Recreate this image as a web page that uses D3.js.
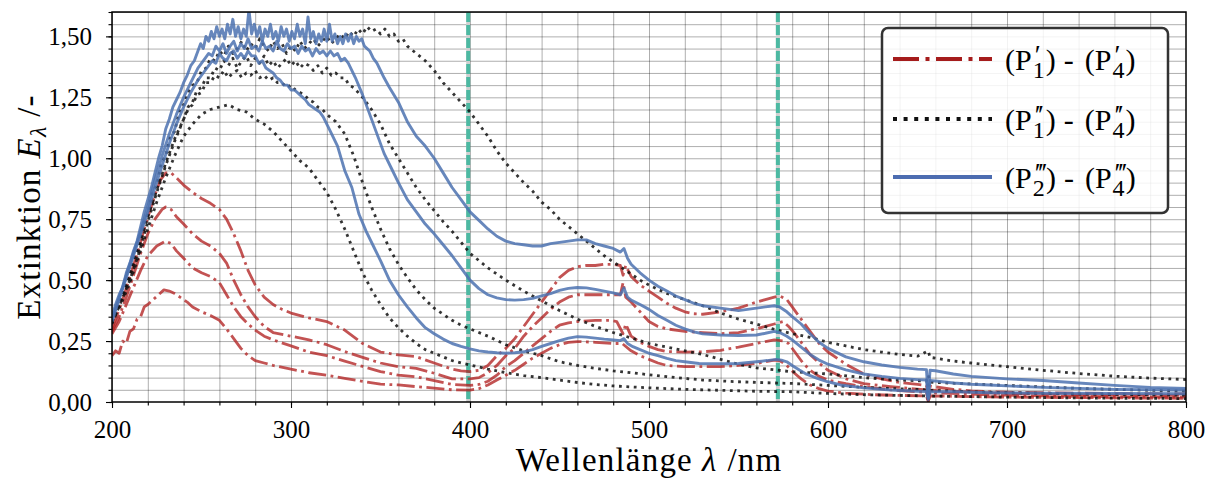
<!DOCTYPE html>
<html>
<head>
<meta charset="utf-8">
<script src="https://cdn.jsdelivr.net/npm/d3@7"></script>
<style>
  html, body { margin: 0; padding: 0; background: #fff; }
  svg { display: block; }
</style>
</head>
<body>
<svg id="chart" width="1212" height="479"></svg>
<script>
// ---- tick labels / axis layout values ----
const xTicks = [200, 300, 400, 500, 600, 700, 800];
const yTicks = [0, 0.25, 0.5, 0.75, 1.0, 1.25, 1.5];
const markerLines = [399, 572];   // marked wavelengths (nm)

// ---- series: [wavelength nm, extinction] ----
// (P'_1)-(P'_4), dash-dot
const red1 = [[200,0.30],[203,0.36],[206,0.42],[209,0.49],[212,0.56],[215,0.63],[218,0.71],[221,0.78],[224,0.85],[227,0.91],[230,0.94],[233,0.94],[236,0.92],[240,0.89],[245,0.86],[250,0.835],[255,0.815],[260,0.79],[264,0.75],[268,0.69],[272,0.62],[276,0.54],[280,0.48],[285,0.43],[290,0.40],[295,0.38],[300,0.365],[310,0.345],[320,0.33],[330,0.295],[340,0.24],[350,0.205],[360,0.193],[370,0.186],[380,0.16],[390,0.135],[395,0.128],[400,0.125],[405,0.13],[410,0.15],[415,0.19],[420,0.22],[425,0.26],[430,0.31],[435,0.36],[440,0.41],[445,0.46],[450,0.51],[455,0.54],[460,0.555],[465,0.56],[470,0.56],[475,0.565],[480,0.565],[484,0.56],[485.5,0.52],[487,0.56],[490,0.515],[495,0.48],[500,0.455],[505,0.43],[510,0.405],[515,0.385],[520,0.37],[525,0.362],[530,0.36],[540,0.37],[550,0.385],[560,0.41],[565,0.42],[570,0.43],[573,0.435],[577,0.42],[580,0.39],[585,0.34],[590,0.29],[595,0.24],[600,0.205],[610,0.155],[620,0.115],[630,0.095],[640,0.08],[650,0.072],[655,0.068],[656,0.005],[657,0.065],[660,0.062],[670,0.052],[680,0.046],[690,0.042],[700,0.04],[720,0.038],[740,0.036],[760,0.035],[780,0.034],[800,0.033]];
const red2 = [[200,0.29],[204,0.35],[208,0.43],[212,0.52],[216,0.61],[220,0.69],[224,0.75],[228,0.79],[230,0.80],[233,0.79],[236,0.76],[240,0.73],[245,0.69],[250,0.66],[255,0.64],[260,0.61],[264,0.57],[268,0.50],[272,0.44],[276,0.39],[280,0.35],[285,0.31],[290,0.285],[300,0.27],[310,0.255],[320,0.235],[330,0.207],[340,0.183],[350,0.16],[360,0.145],[370,0.138],[380,0.118],[390,0.095],[400,0.095],[405,0.10],[410,0.12],[415,0.15],[420,0.19],[425,0.22],[430,0.27],[435,0.31],[440,0.345],[445,0.38],[450,0.41],[455,0.43],[460,0.44],[470,0.44],[480,0.44],[484,0.44],[485.5,0.49],[487,0.43],[490,0.41],[495,0.37],[500,0.33],[505,0.31],[510,0.30],[520,0.29],[530,0.285],[540,0.28],[550,0.285],[560,0.30],[565,0.31],[570,0.32],[575,0.33],[578,0.31],[582,0.275],[586,0.235],[590,0.195],[595,0.16],[600,0.13],[610,0.095],[620,0.075],[635,0.063],[650,0.053],[655,0.05],[656,0.005],[657,0.05],[660,0.048],[680,0.04],[700,0.035],[740,0.03],[800,0.027]];
const red3 = [[200,0.28],[204,0.33],[208,0.40],[212,0.47],[216,0.54],[220,0.60],[225,0.64],[230,0.66],[233,0.65],[236,0.62],[240,0.59],[245,0.55],[250,0.53],[255,0.515],[260,0.49],[264,0.44],[268,0.39],[272,0.35],[276,0.32],[280,0.295],[285,0.27],[290,0.255],[300,0.23],[310,0.205],[320,0.19],[330,0.168],[340,0.146],[350,0.125],[360,0.11],[370,0.103],[380,0.088],[390,0.072],[400,0.068],[405,0.072],[410,0.085],[415,0.11],[420,0.145],[425,0.17],[430,0.20],[435,0.23],[440,0.26],[445,0.29],[450,0.315],[455,0.325],[460,0.33],[470,0.335],[478,0.335],[482,0.33],[485.5,0.28],[487,0.32],[490,0.27],[495,0.245],[500,0.228],[505,0.215],[510,0.207],[520,0.205],[530,0.206],[540,0.212],[550,0.225],[560,0.24],[565,0.248],[570,0.255],[575,0.25],[578,0.24],[582,0.20],[586,0.16],[590,0.13],[595,0.105],[600,0.09],[610,0.075],[620,0.063],[635,0.05],[650,0.042],[655,0.04],[656,0.003],[657,0.04],[660,0.038],[690,0.029],[720,0.025],[760,0.022],[800,0.02]];
const red4 = [[200,0.19],[202,0.21],[204,0.20],[206,0.25],[208,0.24],[210,0.29],[212,0.30],[214,0.34],[216,0.35],[218,0.39],[220,0.40],[223,0.42],[226,0.44],[229,0.46],[232,0.455],[235,0.445],[238,0.43],[242,0.41],[245,0.39],[250,0.37],[255,0.355],[260,0.335],[264,0.30],[268,0.26],[272,0.22],[276,0.19],[280,0.17],[285,0.16],[290,0.15],[300,0.135],[310,0.12],[320,0.11],[330,0.097],[340,0.085],[350,0.073],[360,0.07],[370,0.063],[380,0.057],[390,0.05],[400,0.049],[405,0.055],[410,0.07],[415,0.09],[420,0.11],[425,0.13],[430,0.155],[435,0.18],[440,0.20],[445,0.22],[450,0.235],[455,0.245],[460,0.248],[470,0.245],[480,0.24],[485,0.24],[490,0.21],[495,0.19],[500,0.175],[505,0.16],[510,0.15],[520,0.145],[530,0.145],[540,0.145],[550,0.15],[560,0.158],[570,0.172],[573,0.17],[577,0.15],[581,0.12],[585,0.095],[590,0.07],[595,0.055],[600,0.045],[610,0.036],[625,0.03],[640,0.027],[655,0.025],[656,0.002],[657,0.025],[690,0.021],[740,0.018],[800,0.015]];

// (P''_1)-(P''_4), dotted
const black1 = [[200,0.33],[205,0.42],[210,0.52],[212.5,0.60],[215,0.63],[217.5,0.73],[220,0.77],[222.5,0.86],[225,0.89],[227.5,0.98],[230,1.01],[232.5,1.09],[235,1.11],[237.5,1.19],[240,1.22],[242.5,1.27],[245,1.30],[247.5,1.31],[250,1.36],[252.5,1.37],[255,1.41],[257.5,1.40],[260,1.44],[262.5,1.42],[265,1.46],[267.5,1.43],[270,1.45],[272.5,1.48],[275,1.44],[277.5,1.47],[280,1.45],[282.5,1.49],[285,1.46],[287.5,1.44],[290,1.48],[292.5,1.45],[295,1.47],[297.5,1.43],[300,1.46],[302.5,1.44],[305,1.48],[307.5,1.45],[310,1.47],[312.5,1.49],[315,1.46],[317.5,1.48],[320,1.50],[322.5,1.47],[325,1.49],[327.5,1.51],[330,1.49],[332.5,1.52],[335,1.50],[337.5,1.53],[340,1.51],[342.5,1.54],[345,1.52],[347.5,1.53],[350,1.51],[352.5,1.53],[355,1.50],[357.5,1.51],[360,1.48],[362.5,1.49],[365,1.46],[370,1.43],[375,1.40],[380,1.36],[385,1.31],[390,1.27],[395,1.23],[400,1.19],[405,1.14],[410,1.09],[415,1.03],[420,0.98],[425,0.94],[430,0.90],[435,0.865],[440,0.82],[445,0.79],[450,0.75],[455,0.72],[460,0.69],[465,0.66],[470,0.63],[475,0.60],[480,0.575],[485,0.55],[490,0.525],[495,0.50],[500,0.48],[510,0.445],[520,0.42],[530,0.395],[540,0.365],[550,0.34],[560,0.32],[570,0.298],[580,0.28],[590,0.265],[600,0.245],[610,0.23],[620,0.215],[630,0.205],[640,0.195],[650,0.188],[656,0.21],[657,0.183],[660,0.18],[670,0.168],[680,0.16],[690,0.152],[700,0.145],[720,0.13],[740,0.117],[760,0.106],[780,0.098],[800,0.092]];
const black2 = [[200,0.32],[205,0.41],[210,0.50],[215,0.61],[220,0.74],[225,0.86],[230,0.97],[235,1.07],[240,1.16],[242.5,1.21],[245,1.23],[247.5,1.28],[250,1.29],[252.5,1.33],[255,1.33],[257.5,1.37],[260,1.36],[262.5,1.40],[265,1.38],[267.5,1.41],[270,1.37],[272.5,1.40],[275,1.42],[277.5,1.38],[280,1.41],[282.5,1.39],[285,1.42],[287.5,1.38],[290,1.40],[292.5,1.37],[295,1.39],[297.5,1.41],[300,1.38],[302.5,1.40],[305,1.37],[307.5,1.39],[310,1.38],[312.5,1.36],[315,1.38],[317.5,1.35],[320,1.37],[322.5,1.34],[325,1.35],[327.5,1.33],[330,1.33],[332.5,1.30],[335,1.29],[340,1.25],[345,1.20],[350,1.14],[355,1.06],[360,1.00],[365,0.94],[370,0.88],[375,0.83],[380,0.785],[385,0.74],[390,0.70],[395,0.655],[400,0.61],[405,0.58],[410,0.55],[420,0.50],[430,0.455],[440,0.415],[450,0.375],[460,0.34],[470,0.31],[480,0.285],[490,0.263],[500,0.24],[510,0.225],[520,0.21],[530,0.195],[540,0.175],[550,0.155],[560,0.14],[570,0.132],[580,0.124],[590,0.12],[600,0.115],[620,0.10],[640,0.09],[655,0.086],[656,0.11],[657,0.082],[660,0.08],[680,0.074],[700,0.068],[720,0.062],[740,0.056],[760,0.052],[780,0.048],[800,0.045]];
const black3 = [[200,0.33],[205,0.42],[210,0.52],[215,0.63],[220,0.76],[225,0.87],[230,0.98],[235,1.08],[240,1.16],[242.5,1.20],[245,1.22],[247.5,1.26],[250,1.27],[252.5,1.31],[255,1.31],[257.5,1.34],[260,1.33],[262.5,1.36],[265,1.33],[267.5,1.35],[270,1.36],[272.5,1.33],[275,1.35],[277.5,1.34],[280,1.36],[282.5,1.33],[285,1.34],[287.5,1.32],[290,1.33],[292.5,1.31],[295,1.31],[297.5,1.29],[300,1.30],[302.5,1.28],[305,1.27],[307.5,1.26],[310,1.24],[312.5,1.23],[315,1.21],[317.5,1.20],[320,1.18],[325,1.15],[330,1.10],[335,1.01],[340,0.90],[345,0.80],[350,0.71],[355,0.63],[360,0.565],[365,0.51],[370,0.46],[375,0.42],[380,0.385],[385,0.36],[390,0.335],[395,0.315],[400,0.30],[410,0.27],[420,0.235],[430,0.21],[440,0.19],[450,0.165],[460,0.15],[470,0.138],[480,0.128],[490,0.12],[500,0.112],[510,0.104],[520,0.097],[530,0.09],[550,0.083],[570,0.078],[580,0.076],[600,0.068],[620,0.06],[640,0.054],[655,0.05],[656,0.07],[657,0.048],[660,0.047],[680,0.042],[700,0.038],[740,0.033],[800,0.028]];
const black4 = [[200,0.33],[205,0.40],[210,0.49],[215,0.60],[220,0.71],[225,0.82],[230,0.92],[235,1.01],[240,1.09],[245,1.14],[250,1.18],[255,1.20],[260,1.21],[265,1.22],[270,1.20],[275,1.19],[280,1.16],[285,1.14],[290,1.11],[295,1.07],[300,1.03],[305,0.99],[310,0.96],[315,0.91],[320,0.86],[325,0.79],[330,0.71],[335,0.62],[340,0.53],[345,0.46],[350,0.40],[355,0.345],[360,0.305],[365,0.27],[370,0.24],[375,0.215],[380,0.20],[385,0.185],[390,0.17],[395,0.16],[400,0.152],[410,0.135],[420,0.12],[430,0.108],[440,0.10],[450,0.09],[460,0.08],[470,0.072],[480,0.066],[490,0.062],[500,0.058],[520,0.052],[540,0.048],[560,0.044],[580,0.042],[600,0.035],[620,0.03],[640,0.027],[655,0.025],[656,0.04],[657,0.024],[660,0.024],[700,0.02],[750,0.016],[800,0.014]];

// (P'''_2)-(P'''_4), solid
const blue1 = [[200,0.35],[202,0.40],[204,0.44],[206,0.47],[208,0.53],[210,0.57],[212,0.62],[214,0.66],[216,0.72],[218,0.78],[220,0.83],[222,0.88],[224,0.94],[226,1.00],[228,1.05],[230,1.12],[232,1.16],[234,1.21],[236,1.24],[238,1.27],[240,1.31],[242,1.34],[244,1.38],[246,1.40],[248,1.44],[249.5,1.47],[251,1.45],[252.5,1.50],[254,1.48],[255.5,1.52],[257,1.49],[258.5,1.54],[260,1.50],[261.5,1.53],[263,1.49],[264.5,1.55],[266,1.51],[267.5,1.57],[269,1.50],[270.5,1.54],[272,1.49],[273.5,1.53],[275,1.50],[276.5,1.61],[278,1.51],[279.5,1.55],[281,1.50],[282.5,1.54],[284,1.48],[285.5,1.53],[287,1.50],[288.5,1.55],[290,1.49],[291.5,1.52],[293,1.48],[294.5,1.54],[296,1.50],[297.5,1.53],[299,1.48],[300.5,1.52],[302,1.49],[303.5,1.55],[305,1.50],[306.5,1.53],[308,1.47],[309.5,1.58],[311,1.49],[312.5,1.52],[314,1.47],[315.5,1.51],[317,1.48],[318.5,1.53],[320,1.48],[321.5,1.55],[323,1.48],[324.5,1.51],[326,1.47],[327.5,1.50],[329,1.47],[330.5,1.51],[332,1.48],[333.5,1.51],[335,1.47],[336.5,1.50],[338,1.48],[339.5,1.49],[341,1.46],[342.5,1.45],[344,1.44],[346,1.41],[348,1.39],[350,1.36],[352,1.33],[355,1.29],[360,1.23],[365,1.15],[370,1.09],[375,1.05],[380,1.00],[385,0.94],[390,0.88],[395,0.83],[400,0.78],[405,0.745],[410,0.71],[415,0.68],[420,0.66],[425,0.65],[430,0.645],[435,0.64],[440,0.64],[445,0.65],[450,0.655],[455,0.66],[460,0.665],[465,0.665],[470,0.65],[475,0.64],[480,0.63],[484,0.615],[486,0.63],[488,0.59],[490,0.565],[495,0.53],[500,0.50],[505,0.475],[510,0.455],[515,0.435],[520,0.42],[525,0.405],[530,0.395],[540,0.385],[550,0.375],[560,0.385],[565,0.39],[570,0.395],[573,0.39],[577,0.37],[580,0.35],[585,0.32],[590,0.28],[595,0.245],[600,0.22],[610,0.185],[620,0.165],[630,0.152],[640,0.142],[650,0.135],[655,0.133],[656,0.02],[657,0.13],[660,0.128],[670,0.115],[680,0.105],[690,0.10],[700,0.095],[720,0.088],[740,0.078],[760,0.068],[780,0.06],[800,0.056]];
const blue2 = [[200,0.34],[204,0.43],[208,0.52],[212,0.61],[216,0.70],[220,0.80],[224,0.91],[228,1.01],[232,1.10],[236,1.18],[240,1.25],[244,1.31],[248,1.37],[252,1.41],[254,1.43],[256,1.42],[258,1.46],[260,1.44],[262,1.47],[264,1.43],[266,1.46],[268,1.48],[270,1.44],[272,1.47],[274,1.45],[276,1.49],[278,1.45],[280,1.46],[282,1.44],[284,1.48],[286,1.45],[288,1.46],[290,1.44],[292,1.48],[294,1.45],[296,1.44],[298,1.47],[300,1.45],[302,1.46],[304,1.43],[306,1.46],[308,1.44],[310,1.45],[312,1.42],[314,1.45],[316,1.43],[318,1.44],[320,1.42],[322,1.44],[324,1.42],[326,1.43],[328,1.40],[330,1.41],[332,1.39],[336,1.33],[340,1.26],[344,1.18],[348,1.10],[352,1.02],[356,0.96],[360,0.90],[365,0.83],[370,0.78],[375,0.73],[380,0.69],[385,0.645],[390,0.60],[395,0.55],[400,0.50],[405,0.465],[410,0.44],[415,0.427],[420,0.42],[425,0.418],[430,0.42],[435,0.425],[440,0.435],[445,0.445],[450,0.458],[455,0.466],[460,0.47],[465,0.468],[470,0.462],[475,0.455],[480,0.448],[484,0.44],[486,0.468],[488,0.43],[490,0.418],[495,0.40],[500,0.38],[505,0.355],[510,0.335],[515,0.315],[520,0.30],[525,0.288],[530,0.28],[540,0.275],[550,0.273],[560,0.275],[565,0.282],[570,0.29],[573,0.285],[577,0.27],[580,0.255],[585,0.225],[590,0.195],[595,0.172],[600,0.155],[610,0.132],[620,0.115],[630,0.105],[640,0.097],[650,0.092],[655,0.09],[656,0.015],[657,0.088],[660,0.086],[670,0.078],[680,0.073],[690,0.07],[700,0.066],[720,0.06],[740,0.056],[760,0.052],[780,0.05],[800,0.048]];
const blue3 = [[200,0.33],[204,0.42],[208,0.51],[212,0.60],[216,0.69],[220,0.78],[224,0.88],[228,0.97],[232,1.06],[236,1.14],[240,1.21],[244,1.27],[248,1.32],[252,1.36],[254,1.38],[256,1.40],[258,1.39],[260,1.43],[262,1.41],[264,1.40],[266,1.43],[268,1.44],[270,1.41],[272,1.43],[274,1.41],[276,1.44],[278,1.42],[280,1.42],[282,1.39],[284,1.40],[286,1.37],[288,1.36],[290,1.35],[292,1.33],[294,1.32],[296,1.30],[298,1.30],[300,1.28],[302,1.28],[305,1.26],[308,1.24],[310,1.22],[312,1.21],[314,1.20],[316,1.19],[318,1.17],[322,1.11],[326,1.05],[330,0.95],[334,0.88],[338,0.77],[342,0.70],[346,0.64],[350,0.58],[355,0.50],[360,0.44],[365,0.39],[370,0.345],[375,0.305],[380,0.28],[385,0.258],[390,0.24],[395,0.228],[400,0.218],[405,0.21],[410,0.205],[415,0.202],[420,0.20],[425,0.202],[430,0.206],[435,0.215],[440,0.228],[445,0.24],[450,0.252],[455,0.262],[460,0.268],[465,0.266],[470,0.262],[475,0.258],[480,0.255],[484,0.252],[486,0.26],[488,0.24],[491,0.227],[495,0.215],[500,0.20],[505,0.19],[510,0.179],[515,0.17],[520,0.165],[528,0.158],[540,0.157],[550,0.158],[560,0.165],[566,0.17],[571,0.175],[574,0.172],[577,0.165],[580,0.15],[584,0.131],[588,0.114],[594,0.097],[600,0.083],[607,0.07],[620,0.058],[635,0.049],[650,0.044],[655,0.043],[656,0.01],[657,0.042],[672,0.042],[690,0.038],[720,0.036],[760,0.035],[800,0.034]];

// ---- layout ----
const svg = d3.select("#chart");
const plotL = 112, plotR = 1186, plotT = 12, plotB = 402;
const serif = '"Liberation Serif", "Times New Roman", serif';

const x = d3.scaleLinear().domain([200, 800]).range([plotL, plotR]);
const y = d3.scaleLinear().domain([0, 1.6]).range([plotB, plotT]);

const xMinor = d3.range(200, 801, 20);
const yMinor = d3.range(0, 1.6001, 0.05).map(v => +v.toFixed(2));

// clipping for everything inside the frame
svg.append("defs").append("clipPath").attr("id", "plotclip")
  .append("rect").attr("x", plotL).attr("y", plotT)
  .attr("width", plotR - plotL).attr("height", plotB - plotT);

// ---- grid ----
const grid = svg.append("g").attr("clip-path", "url(#plotclip)");
grid.append("g")
  .attr("transform", `translate(0,${plotB})`)
  .call(d3.axisBottom(x).tickValues(xMinor).tickSize(-(plotB - plotT)).tickFormat(""))
  .call(g => g.select(".domain").remove())
  .call(g => g.selectAll("line").attr("stroke", "#000").attr("stroke-opacity", 0.4).attr("stroke-width", 0.8));
grid.append("g")
  .attr("transform", `translate(${plotL},0)`)
  .call(d3.axisLeft(y).tickValues(yMinor).tickSize(-(plotR - plotL)).tickFormat(""))
  .call(g => g.select(".domain").remove())
  .call(g => g.selectAll("line").attr("stroke", "#000").attr("stroke-opacity", 0.4).attr("stroke-width", 0.8));

// ---- marked wavelengths ----
const marks = svg.append("g").attr("clip-path", "url(#plotclip)");
markerLines.forEach(w => {
  marks.append("line").attr("x1", x(w)).attr("x2", x(w)).attr("y1", plotT).attr("y2", plotB)
    .attr("stroke", "#cfcfcf").attr("stroke-width", 4);
  marks.append("line").attr("x1", x(w)).attr("x2", x(w)).attr("y1", plotT).attr("y2", plotB)
    .attr("stroke", "#4cb9a2").attr("stroke-width", 4).attr("stroke-dasharray", "10,3");
});

// ---- curves ----
const line = d3.line().x(d => x(d[0])).y(d => y(d[1]));
const curves = svg.append("g").attr("clip-path", "url(#plotclip)").attr("fill", "none");

const styles = {
  red:   { color: "#b22222", opacity: 0.78, dash: "18,4.5,2.8,4.5", width: 2.8 },
  black: { color: "#111111", opacity: 0.85, dash: "2.8,4.6", width: 2.8 },
  blue:  { color: "#4c72b0", opacity: 0.85, dash: null, width: 2.9 }
};
const groups = [
  { key: "red", series: [red1, red2, red3, red4] },
  { key: "black", series: [black1, black2, black3, black4] },
  { key: "blue", series: [blue1, blue2, blue3] }
];
groups.forEach(gp => {
  const st = styles[gp.key];
  gp.series.forEach(s => {
    curves.append("path").datum(s).attr("d", line)
      .attr("stroke", st.color).attr("stroke-opacity", st.opacity)
      .attr("stroke-width", st.width)
      .attr("stroke-dasharray", st.dash)
      .attr("stroke-linejoin", "round");
  });
});

// ---- axes ----
const fmtY = d => d3.format(".2f")(d).replace(".", ",");
const xAxisG = svg.append("g").attr("transform", `translate(0,${plotB})`);
xAxisG.call(d3.axisBottom(x).tickValues(xMinor).tickSize(3.5).tickFormat(""))
  .call(g => g.select(".domain").remove());
xAxisG.append("g").call(d3.axisBottom(x).tickValues(xTicks).tickSize(6).tickPadding(12).tickFormat(d3.format("d")))
  .call(g => g.select(".domain").remove())
  .call(g => g.selectAll("text").style("font-family", serif).style("font-size", "25px").attr("fill", "#000"));

const yAxisG = svg.append("g").attr("transform", `translate(${plotL},0)`);
yAxisG.call(d3.axisLeft(y).tickValues(yMinor).tickSize(3.5).tickFormat(""))
  .call(g => g.select(".domain").remove());
yAxisG.append("g").call(d3.axisLeft(y).tickValues(yTicks).tickSize(6).tickPadding(14).tickFormat(fmtY))
  .call(g => g.select(".domain").remove())
  .call(g => g.selectAll("text").style("font-family", serif).style("font-size", "25px").attr("fill", "#000"));
xAxisG.selectAll(".tick line").attr("stroke", "#000").attr("stroke-width", 1.1);
yAxisG.selectAll(".tick line").attr("stroke", "#000").attr("stroke-width", 1.1);

// frame
svg.append("rect").attr("x", plotL).attr("y", plotT)
  .attr("width", plotR - plotL).attr("height", plotB - plotT)
  .attr("fill", "none").attr("stroke", "#000").attr("stroke-width", 1.5);

// ---- text helpers ----
function addText(g, tx, ty, str, size, italic, spacing) {
  const t = g.append("text").attr("x", tx).attr("y", ty).text(str)
    .style("font-family", serif).style("font-size", size + "px")
    .style("letter-spacing", (spacing || 0) + "px")
    .attr("fill", "#000");
  if (italic) t.style("font-style", "italic");
  return t.node().getComputedTextLength();
}
function rich(g, x0, y0, runs, size, spacing) {
  let cx = x0;
  runs.forEach(r => {
    if (r.sub !== undefined) {
      cx += addText(g, cx, y0 + r.subDy, r.sub, size * r.subScale, r.italic, 0) + (r.after || 0);
    } else {
      cx += addText(g, cx, y0, r.t, size, r.italic, spacing) + (r.after || 0);
    }
  });
  return cx - x0;
}
// width of a string in a given size (temporary node)
function measure(str, size, spacing) {
  const t = svg.append("text").text(str)
    .style("font-family", serif).style("font-size", size + "px")
    .style("letter-spacing", (spacing || 0) + "px");
  const w = t.node().getComputedTextLength();
  t.remove();
  return w;
}

// x axis title
const xTitle = svg.append("g");
const xw = rich(xTitle, 0, 0, [
  { t: "Wellenlänge", after: 9 },
  { t: "λ", italic: true, after: 10 },
  { t: "/nm" }
], 33, 1.2);
xTitle.attr("transform", `translate(${(plotL + plotR) / 2 - xw / 2},471)`);

// y axis title
const yTitle = svg.append("g");
const yw = rich(yTitle, 0, 0, [
  { t: "Extinktion", after: 10 },
  { t: "E", italic: true, after: 0 },
  { sub: "λ", subDy: 6, subScale: 0.72, italic: true, after: 10 },
  { t: "/-" }
], 33, 1.2);
yTitle.attr("transform", `translate(40,${(plotT + plotB) / 2 + yw / 2}) rotate(-90)`);

// ---- legend ----
const legend = svg.append("g");
legend.append("rect").attr("x", 882).attr("y", 28).attr("width", 286).attr("height", 185)
  .attr("rx", 6).attr("ry", 6)
  .attr("fill", "#fff").attr("fill-opacity", 0.85)
  .attr("stroke", "#333").attr("stroke-width", 2.5);

const legendItems = [
  { key: "red",   dash: "26,6.5,4,6.5", primes: "′",   sub1: "1", sub2: "4" },
  { key: "black", dash: "4,6.6",        primes: "′′",  sub1: "1", sub2: "4" },
  { key: "blue",  dash: null,           primes: "′′′", sub1: "2", sub2: "4" }
];
const legendRowY = [59, 119, 177];
const legendColor = { red: "#a51c1c", black: "#111", blue: "#4c6cb0" };
const LS = 30;                 // legend font size
const primeSize = 27, subSize = 24, primeSpacing = -2.5;

legendItems.forEach((it, i) => {
  const ly = legendRowY[i];
  legend.append("line").attr("x1", 893).attr("x2", 992).attr("y1", ly).attr("y2", ly)
    .attr("stroke", legendColor[it.key]).attr("stroke-width", 4)
    .attr("stroke-dasharray", it.dash);

  // one text per entry: P with a prime stacked over its subscript
  const pw = measure(it.primes, primeSize, primeSpacing);
  const t = legend.append("text").attr("x", 1005).attr("y", ly + 11)
    .style("font-family", serif).style("font-size", LS + "px").attr("fill", "#000");
  const stacked = (sub) => {
    const sw = measure(sub, subSize, 0);
    t.append("tspan").attr("dx", 3).attr("dy", -6)
      .style("font-size", primeSize + "px").style("letter-spacing", primeSpacing + "px").text(it.primes);
    t.append("tspan").attr("dx", -pw - 2).attr("dy", 14)
      .style("font-size", subSize + "px").text(sub);
    return Math.max(0, pw + 2 - sw);
  };
  t.append("tspan").text("(P");
  let extra = stacked(it.sub1);
  t.append("tspan").attr("dx", extra + 1).attr("dy", -8).text(")");
  t.append("tspan").attr("dx", 8).text("-");
  t.append("tspan").attr("dx", 11).text("(P");
  extra = stacked(it.sub2);
  t.append("tspan").attr("dx", extra + 1).attr("dy", -8).text(")");
});
</script>
</body>
</html>
